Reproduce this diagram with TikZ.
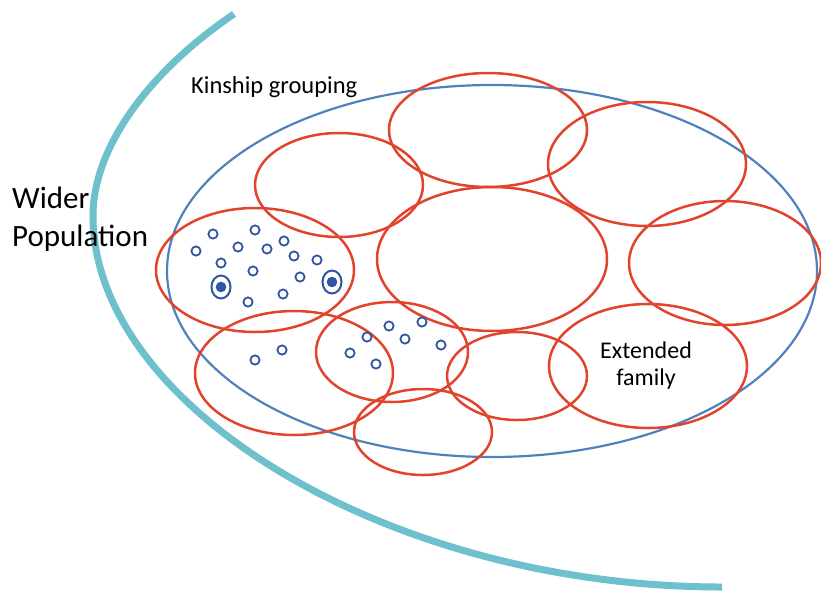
\documentclass[tikz,border=0pt]{standalone}
\usepackage{fontspec}
\setmainfont{Carlito}
\definecolor{kinblue}{HTML}{4F81BD}
\definecolor{famred}{HTML}{E2432C}
\definecolor{popcyan}{HTML}{6DC0CC}
\definecolor{dotblue}{HTML}{2F55A4}
\tikzset{
  fam/.style={draw=famred, line width=2.5pt},
  kin/.style={draw=kinblue, line width=2.2pt},
  person/.style={draw=dotblue, line width=1.8pt},
  ring/.style={draw=dotblue, line width=2pt},
  lbl/.style={font=\fontsize{24.5}{27}\selectfont, text=black, inner sep=0pt, align=center},
}
\begin{document}
\begin{tikzpicture}[x=1pt,y=-1pt]
\useasboundingbox (0,0) rectangle (821,592);
% wider population arc
\coordinate (popA) at (234,14);
\coordinate (popB) at (93,216);
\coordinate (popC) at (722,587);
\draw[popcyan, line width=7pt] (popA) .. controls (151,70) and (93,146) .. (popB)
  .. controls (93,406) and (387,587) .. (popC);
% kinship grouping ellipse
\draw[kin] (492,271) ellipse [x radius=325, y radius=186];
% families
\draw[fam] (488,130) ellipse [x radius=99, y radius=57];
\draw[fam] (647,164) ellipse [x radius=99, y radius=62];
\draw[fam] (339,185) ellipse [x radius=84, y radius=52];
\draw[fam] (492,259) ellipse [x radius=115, y radius=72];
\draw[fam] (725,263) ellipse [x radius=96, y radius=62];
\draw[fam] (255,270) ellipse [x radius=99, y radius=62];
\draw[fam] (294,373) ellipse [x radius=99, y radius=62];
\draw[fam] (392,352) ellipse [x radius=76, y radius=50];
\draw[fam] (423,432) ellipse [x radius=69, y radius=43];
\draw[fam] (517,376) ellipse [x radius=70, y radius=44];
\draw[fam] (648,366) ellipse [x radius=99, y radius=62];
% individuals
\foreach \p in {(213,234),(255,230),(196,251),(238,247),(267,249),(284,241),(294,256),(317,260),(221,263),(253,271),(300,277),(283,294),(248,302),(255,360),(282,350),(350,353),(367,337),(376,364),(389,326),(405,339),(422,322),(441,345)}
  \draw[person] \p circle (4.6);
\draw[ring] (221,287) ellipse [x radius=9.5, y radius=11.5];
\fill[dotblue] (221,287) circle (5.3);
\draw[ring] (332,282) ellipse [x radius=9.5, y radius=11.5];
\fill[dotblue] (332,282) circle (5.3);
% labels
\node[lbl, anchor=west] (kinship) at (191,87) {Kinship grouping};
\node[lbl, anchor=west, align=left, font=\fontsize{31}{38}\selectfont] (wider) at (12,219) {Wider\\Population};
\node[lbl, align=center, font=\fontsize{24}{27}\selectfont] (extended) at (646,366) {Extended\\family};
\end{tikzpicture}
\end{document}
